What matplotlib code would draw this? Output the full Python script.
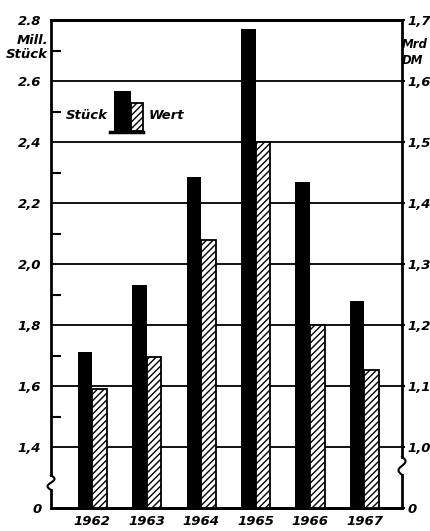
from matplotlib import pyplot as plt
import numpy as np

years = ['1962', '1963', '1964', '1965', '1966', '1967']
stueck = [1.71, 1.93, 2.285, 2.77, 2.27, 1.88]      # Mill. Stück (left)
wert = [1.095, 1.147, 1.34, 1.50, 1.20, 1.127]      # Mrd DM (right)

left_ticks = [1.2, 1.4, 1.6, 1.8, 2.0, 2.2, 2.4, 2.6, 2.8]
left_labels = ['0', '1,4', '1,6', '1,8', '2,0', '2,2', '2,4', '2.6', '2.8']
right_ticks = [0.9, 1.0, 1.1, 1.2, 1.3, 1.4, 1.5, 1.6, 1.7]
right_labels = ['0', '1,0', '1,1', '1,2', '1,3', '1,4', '1,5', '1,6', '1,7']

font = dict(family='Liberation Sans Narrow', style='italic', weight='bold', size=9.5)

fig = plt.figure(figsize=(4.3, 5.31), dpi=100)
ax = fig.add_axes([51/430, 23/531, 351/430, 488/531])
ax2 = ax.twinx()

x = np.arange(len(years))
w = 0.27
ax.bar(x - w/2, np.array(stueck) - 1.2, w, bottom=1.2, color='black', zorder=3)
ax2.bar(x + w/2, np.array(wert) - 0.9, w, bottom=0.9, color='white',
        edgecolor='black', hatch='/////', linewidth=1.3, zorder=3)

ax.set_xlim(-0.76, 5.69)
ax.set_ylim(1.2, 2.8)
ax2.set_ylim(0.9, 1.7)

ax.set_yticks(left_ticks)
ax.set_yticklabels(left_labels, **font)
ax.set_yticks([1.5, 1.7, 1.9, 2.1, 2.3, 2.5, 2.7], minor=True)
ax.tick_params(axis='y', which='major', length=0, pad=7)
ax.tick_params(axis='y', which='minor', direction='in', length=7, width=1.5)
ax2.set_yticks(right_ticks)
ax2.set_yticklabels(right_labels, **font)
ax2.tick_params(axis='y', length=2.5, width=1.5, pad=1.5)

ax.set_xticks(x)
ax.set_xticklabels(years, **font)
ax.tick_params(axis='x', length=0, pad=5)

ax.yaxis.grid(True, color='black', linewidth=1.3, zorder=0)
ax.set_axisbelow(True)

for a in (ax, ax2):
    for s in a.spines.values():
        s.set_linewidth(2)
    a.spines['left'].set_visible(False)
    a.spines['right'].set_visible(False)

# broken vertical axes
def broken_spine(xpos, y_lo, y_hi):
    kw = dict(color='black', linewidth=2, transform=ax.transAxes, clip_on=False, zorder=5)
    ax.plot([xpos, xpos], [0, y_lo], **kw)
    ax.plot([xpos, xpos], [y_hi, 1], **kw)
    t = np.linspace(0, 1, 30)
    ax.plot(xpos - 0.010 * np.sin(2 * np.pi * t), y_lo + (y_hi - y_lo) * t,
            color='black', linewidth=1.5, transform=ax.transAxes, clip_on=False, zorder=5)

broken_spine(0, 0.037, 0.067)
broken_spine(1, 0.068, 0.105)

# unit labels
fig.text(48/430, 1 - 40/531, 'Mill.', ha='right', va='center', **font)
fig.text(48/430, 1 - 55/531, 'Stück', ha='right', va='center', **font)
small = dict(font, size=8.5)
fig.text(402/430, 1 - 45/531, 'Mrd', ha='left', va='center', **small)
fig.text(402/430, 1 - 60/531, 'DM', ha='left', va='center', **small)

# legend
ax.add_patch(plt.Rectangle((0.1795, 0.7725), 0.0485, 0.082, facecolor='black',
                           transform=ax.transAxes, zorder=6))
ax.add_patch(plt.Rectangle((0.228, 0.7725), 0.034, 0.057, facecolor='white',
                           edgecolor='black', hatch='/////', linewidth=1.3,
                           transform=ax.transAxes, zorder=6))
ax.plot([0.168, 0.262], [0.770, 0.770], color='black', linewidth=2.5,
        transform=ax.transAxes, zorder=7)
ax.text(0.162, 0.805, 'Stück', ha='right', va='center', transform=ax.transAxes, **font)
ax.text(0.279, 0.805, 'Wert', ha='left', va='center', transform=ax.transAxes, **font)

fig.savefig('out.png', dpi=100)
